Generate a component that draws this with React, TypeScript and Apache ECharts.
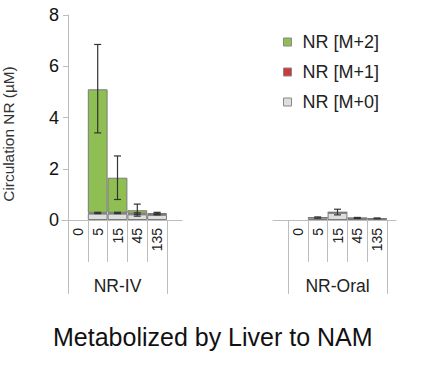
import React, { useEffect, useRef } from "react";
import * as echarts from "echarts";

const categories = ["0", "5", "15", "45", "135"];
const groups = ["NR-IV", "NR-Oral"];
const seriesNames = ["NR [M+0]", "NR [M+1]", "NR [M+2]"];

// NR-IV stacked values (µM)
const ivM0 = [0, 0.25, 0.25, 0.22, 0.2];
const ivM1 = [0, 0.03, 0.03, 0.03, 0.03];
const ivM2 = [0, 4.82, 1.37, 0.13, 0.04];
// NR-Oral stacked values (µM)
const oralM0 = [0, 0.09, 0.28, 0.07, 0.05];
const oralM1 = [0, 0.01, 0.01, 0.01, 0.01];
const oralM2 = [0, 0, 0.02, 0, 0];

// error bars [category index, low, high]
const ivErrTotal = [
  [1, 3.4, 6.85],
  [2, 0.8, 2.5],
  [3, 0.15, 0.62],
  [4, 0.22, 0.3],
];
const ivErrLow = [
  [1, 0.25, 0.3],
  [2, 0.25, 0.3],
  [3, 0.22, 0.28],
  [4, 0.2, 0.27],
];
const oralErr = [
  [1, 0.07, 0.12],
  [2, 0.2, 0.42],
  [3, 0.06, 0.1],
  [4, 0.05, 0.08],
];

const yTicks = { min: 0, max: 8, interval: 2 };

const colors: Record<string, string> = {
  "NR [M+0]": "#dedede",
  "NR [M+1]": "#cc3b3b",
  "NR [M+2]": "#8fbf52",
};

const FONT = "Liberation Sans, Arial, sans-serif";

function errSeries(data: number[][], xi: number, yi: number) {
  return {
    type: "custom",
    xAxisIndex: xi,
    yAxisIndex: yi,
    silent: true,
    z: 10,
    data,
    renderItem: (_p: any, api: any) => {
      const x = api.value(0);
      const lo = api.coord([x, api.value(1)]);
      const hi = api.coord([x, api.value(2)]);
      const w = 3.5;
      const st = { stroke: "#333", lineWidth: 1.2 };
      return {
        type: "group",
        children: [
          { type: "line", shape: { x1: lo[0], y1: lo[1], x2: hi[0], y2: hi[1] }, style: st },
          { type: "line", shape: { x1: lo[0] - w, y1: lo[1], x2: lo[0] + w, y2: lo[1] }, style: st },
          { type: "line", shape: { x1: hi[0] - w, y1: hi[1], x2: hi[0] + w, y2: hi[1] }, style: st },
        ],
      };
    },
  };
}

function barSeries(name: string, data: number[], xi: number, yi: number, stack: string) {
  return {
    type: "bar",
    name,
    xAxisIndex: xi,
    yAxisIndex: yi,
    stack,
    data: data.map((v) => (v === 0 ? null : v)),
    barCategoryGap: "0%",
    itemStyle: { color: colors[name], borderColor: "#7a7a7a", borderWidth: 1 },
  };
}

export default function App() {
  const ref = useRef<HTMLDivElement>(null);
  useEffect(() => {
    if (!ref.current) return;
    const chart = echarts.init(ref.current, undefined, { renderer: "svg" });
    const top = 15;
    const height = 205;
    const lineColor = "#bdbdbd";
    const catAxis = (gi: number) => ({
      type: "category",
      gridIndex: gi,
      data: categories,
      position: "bottom",
      axisLine: { show: false },
      axisTick: { show: true, interval: 0, length: 42, lineStyle: { color: lineColor } },
      axisLabel: { rotate: 90, interval: 0, fontSize: 14, color: "#222", fontFamily: FONT, margin: 8 },
      splitLine: { show: false },
    });
    const outerAxis = (gi: number, name: string) => ({
      type: "value",
      gridIndex: gi,
      min: 0,
      max: 1,
      interval: 1,
      position: "bottom",
      axisLine: { show: false },
      axisTick: { show: true, length: 74, lineStyle: { color: lineColor } },
      axisLabel: { show: false },
      splitLine: { show: false },
      name,
      nameLocation: "middle",
      nameGap: 57,
      nameTextStyle: { fontSize: 17.5, color: "#222", fontFamily: FONT },
    });
    const baseAxis = (gi: number) => ({
      type: "value",
      gridIndex: gi,
      min: 0,
      max: 1,
      position: "bottom",
      axisLine: { show: true, onZero: false, lineStyle: { color: lineColor, width: 1.2 } },
      axisTick: { show: false },
      axisLabel: { show: false },
      splitLine: { show: false },
    });
    const hiddenY = (gi: number) => ({
      type: "value",
      gridIndex: gi,
      ...yTicks,
      show: false,
      splitLine: { show: false },
    });
    chart.setOption({
      animation: false,
      title: {
        text: "Metabolized by Liver to NAM",
        left: 48,
        top: 319,
        textStyle: { fontSize: 25, fontWeight: "normal", color: "#111", fontFamily: FONT },
      },
      legend: {
        orient: "vertical",
        left: 283,
        top: 33,
        padding: 0,
        itemWidth: 8,
        itemHeight: 8,
        itemGap: 12,
        icon: "rect",
        data: ["NR [M+2]", "NR [M+1]", "NR [M+0]"],
        textStyle: { fontSize: 18, color: "#222", fontFamily: FONT, padding: [0, 0, 0, 6] },
        itemStyle: { borderColor: "#888", borderWidth: 1 },
      },
      grid: [
        { left: 68, top, width: 99, height },
        { left: 288, top, width: 99, height },
        { left: 62, top: 48, width: 120, height: 172 },
        { left: 273, top, width: 123, height },
      ],
      xAxis: [
        catAxis(0),
        outerAxis(0, groups[0]),
        baseAxis(2),
        catAxis(1),
        outerAxis(1, groups[1]),
        baseAxis(3),
      ],
      yAxis: [
        {
          type: "value",
          gridIndex: 0,
          ...yTicks,
          axisLine: { show: true, lineStyle: { color: lineColor } },
          axisTick: { show: true, length: 5, lineStyle: { color: lineColor } },
          axisLabel: { fontSize: 18, color: "#111", fontFamily: FONT, margin: 9 },
          splitLine: { show: false },
        },
        hiddenY(1),
        {
          type: "value",
          gridIndex: 2,
          min: 0,
          max: 1,
          axisLine: { show: false },
          axisTick: { show: false },
          axisLabel: { show: false },
          splitLine: { show: false },
          name: "Circulation NR (µM)",
          nameLocation: "middle",
          nameGap: 46,
          nameTextStyle: { fontSize: 15.4, color: "#333", fontFamily: FONT },
        },
        hiddenY(3),
      ],
      series: [
        barSeries(seriesNames[0], ivM0, 0, 0, "iv"),
        barSeries(seriesNames[1], ivM1, 0, 0, "iv"),
        barSeries(seriesNames[2], ivM2, 0, 0, "iv"),
        barSeries(seriesNames[0], oralM0, 3, 1, "oral"),
        barSeries(seriesNames[1], oralM1, 3, 1, "oral"),
        barSeries(seriesNames[2], oralM2, 3, 1, "oral"),
        errSeries(ivErrTotal, 0, 0),
        errSeries(ivErrLow, 0, 0),
        errSeries(oralErr, 3, 1),
      ],
    });
    return () => chart.dispose();
  }, []);
  return <div ref={ref} style={{ width: 441, height: 370, position: "absolute", left: 0, top: 0 }} />;
}
